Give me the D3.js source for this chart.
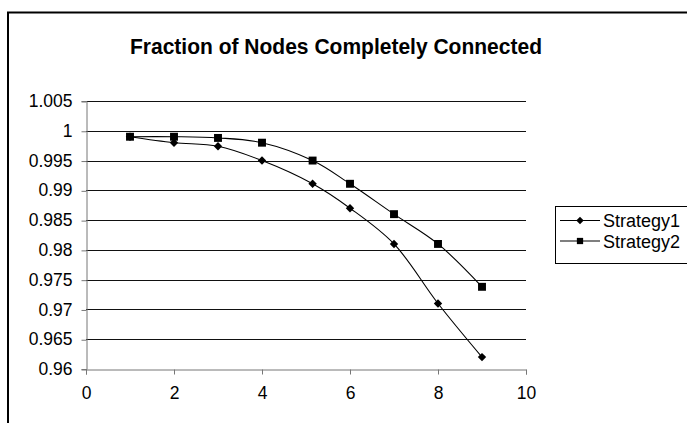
<!DOCTYPE html>
<html><head><meta charset="utf-8">
<script src="https://cdn.jsdelivr.net/npm/d3@7"></script>
<style>body{margin:0;background:#fff}svg{display:block}text{font-family:"Liberation Sans",Arial,sans-serif}</style>
</head><body><svg id="c" width="687" height="423"></svg>
<script>
const xValues = [1, 2, 3, 4, 5.15, 6, 7, 8, 9];
const strategy1 = [0.999, 0.998, 0.9974, 0.995, 0.9911, 0.987, 0.981, 0.971, 0.962];
const strategy2 = [0.999, 0.999, 0.9988, 0.998, 0.995, 0.9911, 0.986, 0.981, 0.9738];
const seriesNames = ["Strategy1", "Strategy2"];
const xTicks = [0, 2, 4, 6, 8, 10];
const yTicks = [0.96, 0.965, 0.97, 0.975, 0.98, 0.985, 0.99, 0.995, 1, 1.005];
const title = "Fraction of Nodes Completely Connected";

const svg = d3.select("#c");
svg.append("rect").attr("x", 8).attr("y", 12.5).attr("width", 700).attr("height", 430)
  .attr("fill", "none").attr("stroke", "#000").attr("stroke-width", 2);

svg.append("text").attr("x", 336).attr("y", 54).attr("text-anchor", "middle")
  .attr("font-size", 22.5).attr("font-weight", "bold")
  .attr("textLength", 412).attr("lengthAdjust", "spacingAndGlyphs").text(title);

const x = d3.scaleLinear().domain([0, 10]).range([86, 526]);
const y = d3.scaleLinear().domain([0.96, 1.005]).range([369, 101]);

// gridlines
svg.append("g").selectAll("line").data(yTicks.filter(d => d > 0.96)).join("line")
  .attr("x1", 86).attr("x2", 526).attr("y1", d => Math.round(y(d)) + 0.5).attr("y2", d => Math.round(y(d)) + 0.5)
  .attr("stroke", "#111").attr("stroke-width", 1);

const yAxis = svg.append("g").attr("transform", "translate(86.5,0)")
  .call(d3.axisLeft(y).tickValues(yTicks).tickFormat(d => d3.format("")(+d.toFixed(3))).tickSize(5).tickPadding(9));
const xAxis = svg.append("g").attr("transform", "translate(0,369.5)")
  .call(d3.axisBottom(x).tickValues(xTicks).tickFormat(d3.format("d")).tickSize(5).tickPadding(12));
[yAxis, xAxis].forEach(a => {
  a.select(".domain").attr("stroke", "#777");
  a.selectAll(".tick line").attr("stroke", "#777");
  a.selectAll("text").attr("font-size", 17.5).attr("fill", "#000").attr("font-family", '"Liberation Sans",Arial,sans-serif');
});
yAxis.selectAll(".tick line").attr("y1", 0.5).attr("y2", 0.5);

const line = d3.line().x(d => x(d[0])).y(d => y(d[1])).curve(d3.curveCatmullRom.alpha(0.5));
const allSeries = [strategy1, strategy2];
const symbols = [d3.symbol().type(d3.symbolDiamond2).size(45), d3.symbol().type(d3.symbolSquare2).size(80)];
const symbolsLegend = [d3.symbol().type(d3.symbolDiamond2).size(35), d3.symbol().type(d3.symbolSquare2).size(50)];

allSeries.forEach((s, i) => {
  const pts = xValues.map((xv, j) => [xv, s[j]]);
  svg.append("path").attr("d", line(pts)).attr("fill", "none").attr("stroke", "#000").attr("stroke-width", 1.1);
  svg.append("g").selectAll("path").data(pts).join("path")
    .attr("transform", d => `translate(${x(d[0])},${y(d[1])})`)
    .attr("d", symbols[i]()).attr("fill", "#000");
});

// legend
const lg = svg.append("g");
lg.append("rect").attr("x", 555.5).attr("y", 206.5).attr("width", 140).attr("height", 57)
  .attr("fill", "#fff").attr("stroke", "#000").attr("stroke-width", 1);
seriesNames.forEach((n, i) => {
  const cy = 220.5 + i * 20.5;
  lg.append("line").attr("x1", 560).attr("x2", 600).attr("y1", cy).attr("y2", cy).attr("stroke", "#000").attr("stroke-width", 1.1);
  lg.append("path").attr("transform", `translate(580,${cy})`).attr("d", symbolsLegend[i]()).attr("fill", "#000");
  lg.append("text").attr("x", 603).attr("y", cy + 6.5).attr("font-size", 18).text(n);
});
</script></body></html>
